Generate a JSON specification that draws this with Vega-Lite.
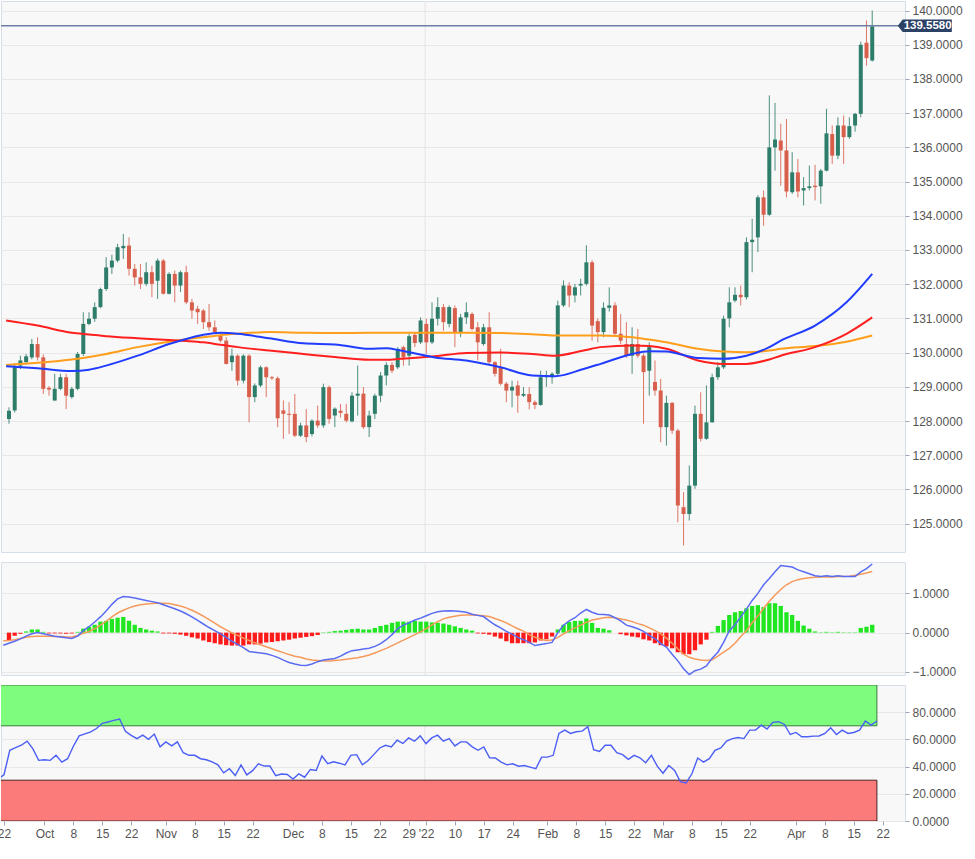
{
"$schema":"https://vega.github.io/schema/vega-lite/v6.json",
"background":"white",
"padding":{"left":-4,"top":0,"right":0,"bottom":0},
"spacing":10,
"bounds":"flush",
"config":{
"view":{"fill":"#f8f8f8","stroke":"#d6deeb","strokeWidth":1},
"axis":{"labelFont":"Liberation Sans","labelFontSize":12,"labelColor":"#555555","domain":false,"tickColor":"#9aa5b8","tickSize":4,"labelPadding":3,"gridColor":"#e8e8e8","labelOverlap":false,"labelFlush":false,"labelSeparation":0}
},
"datasets":{
"candles":[
{"i":-1,"m":-0.32,"s":-0.21,"r":31},
{"i":0,"o":128.06,"h":128.4,"l":127.92,"c":128.3,"m":-0.27,"s":-0.2,"hist":-0.2,"r":34},
{"i":1,"o":128.31,"h":129.68,"l":128.25,"c":129.57,"m":-0.22,"s":-0.18,"hist":-0.08,"r":52},
{"i":2,"o":129.62,"h":129.91,"l":129.52,"c":129.77,"m":-0.16,"s":-0.15,"hist":-0.03,"r":54},
{"i":3,"o":129.72,"h":129.96,"l":129.65,"c":129.89,"m":-0.09,"s":-0.12,"hist":0.03,"r":55.7},
{"i":4,"o":129.86,"h":130.4,"l":129.8,"c":130.25,"m":-0.03,"s":-0.1,"hist":0.08,"r":58.7},
{"i":5,"o":130.25,"h":130.45,"l":129.77,"c":129.86,"m":0,"s":-0.09,"hist":0.08,"r":53},
{"i":6,"o":129.86,"h":129.95,"l":128.79,"c":128.94,"m":-0.03,"s":-0.09,"hist":0.02,"r":44.6},
{"i":7,"o":128.97,"h":129.02,"l":128.74,"c":128.92,"m":-0.06,"s":-0.09,"hist":-0.02,"r":45},
{"i":8,"o":128.6,"h":129.38,"l":128.58,"c":128.94,"m":-0.09,"s":-0.1,"hist":-0.02,"r":44.6},
{"i":9,"o":128.94,"h":129.38,"l":128.9,"c":129.28,"m":-0.11,"s":-0.1,"hist":-0.02,"r":48.3},
{"i":10,"o":129.28,"h":129.38,"l":128.35,"c":128.74,"m":-0.13,"s":-0.11,"hist":-0.03,"r":43.3},
{"i":11,"o":128.7,"h":129,"l":128.65,"c":128.94,"m":-0.15,"s":-0.11,"hist":-0.02,"r":45.8},
{"i":12,"o":128.94,"h":130.02,"l":128.9,"c":129.96,"m":-0.09,"s":-0.07,"hist":0.02,"r":55},
{"i":13,"o":129.96,"h":131.18,"l":129.9,"c":130.84,"m":0.05,"s":-0.02,"hist":0.1,"r":62.6},
{"i":14,"o":130.84,"h":131.18,"l":130.8,"c":130.99,"m":0.15,"s":0.03,"hist":0.15,"r":64},
{"i":15,"o":130.99,"h":131.47,"l":130.9,"c":131.33,"m":0.27,"s":0.1,"hist":0.2,"r":65.5},
{"i":16,"o":131.33,"h":131.9,"l":131.3,"c":131.86,"m":0.4,"s":0.19,"hist":0.28,"r":68},
{"i":17,"o":131.86,"h":132.79,"l":131.8,"c":132.49,"m":0.55,"s":0.29,"hist":0.3,"r":71.8},
{"i":18,"o":132.49,"h":132.86,"l":132.3,"c":132.69,"m":0.72,"s":0.4,"hist":0.35,"r":72.8},
{"i":19,"o":132.69,"h":133.18,"l":132.64,"c":133.08,"m":0.86,"s":0.5,"hist":0.38,"r":74},
{"i":20,"o":133.05,"h":133.47,"l":132.74,"c":133.12,"m":0.92,"s":0.57,"hist":0.4,"r":75},
{"i":21,"o":133.13,"h":133.37,"l":132.25,"c":132.45,"m":0.91,"s":0.63,"hist":0.3,"r":66},
{"i":22,"o":132.45,"h":132.59,"l":131.96,"c":132.2,"m":0.88,"s":0.68,"hist":0.2,"r":63},
{"i":23,"o":132.2,"h":132.59,"l":131.86,"c":132.01,"m":0.85,"s":0.71,"hist":0.12,"r":60.6},
{"i":24,"o":132.01,"h":132.64,"l":131.95,"c":132.35,"m":0.82,"s":0.73,"hist":0.08,"r":63.1},
{"i":25,"o":132.35,"h":132.54,"l":131.62,"c":132.01,"m":0.79,"s":0.74,"hist":0.05,"r":60.1},
{"i":26,"o":132.1,"h":132.75,"l":131.57,"c":132.69,"m":0.76,"s":0.75,"hist":0.03,"r":63.9},
{"i":27,"o":132.69,"h":132.74,"l":131.7,"c":131.72,"m":0.71,"s":0.75,"hist":-0.02,"r":54.5},
{"i":28,"o":131.72,"h":132.35,"l":131.7,"c":132.3,"m":0.66,"s":0.74,"hist":-0.02,"r":58.2},
{"i":29,"o":132.3,"h":132.4,"l":131.47,"c":131.96,"m":0.61,"s":0.71,"hist":-0.03,"r":55.2},
{"i":30,"o":131.96,"h":132.4,"l":131.77,"c":132.35,"m":0.55,"s":0.68,"hist":-0.05,"r":58.2},
{"i":31,"o":132.35,"h":132.54,"l":131.42,"c":131.47,"m":0.48,"s":0.63,"hist":-0.08,"r":50.2},
{"i":32,"o":131.47,"h":131.57,"l":130.99,"c":131.23,"m":0.4,"s":0.57,"hist":-0.12,"r":48.3},
{"i":33,"o":131.28,"h":131.37,"l":130.84,"c":131.18,"m":0.31,"s":0.5,"hist":-0.15,"r":48.3},
{"i":34,"o":131.23,"h":131.28,"l":130.69,"c":130.89,"m":0.22,"s":0.42,"hist":-0.2,"r":45.8},
{"i":35,"o":130.89,"h":131.42,"l":130.64,"c":130.74,"m":0.13,"s":0.33,"hist":-0.24,"r":45},
{"i":36,"o":130.74,"h":130.94,"l":130.55,"c":130.6,"m":0.05,"s":0.24,"hist":-0.27,"r":43.5},
{"i":37,"o":130.5,"h":130.6,"l":130.3,"c":130.35,"m":-0.03,"s":0.15,"hist":-0.3,"r":41.3},
{"i":38,"o":130.35,"h":130.45,"l":129.65,"c":129.67,"m":-0.12,"s":0.07,"hist":-0.32,"r":35.4},
{"i":39,"o":129.72,"h":130.11,"l":129.47,"c":129.91,"m":-0.22,"s":-0.01,"hist":-0.33,"r":38.4},
{"i":40,"o":129.91,"h":129.95,"l":129.04,"c":129.18,"m":-0.3,"s":-0.07,"hist":-0.33,"r":33.4},
{"i":41,"o":129.18,"h":129.95,"l":129.1,"c":129.91,"m":-0.38,"s":-0.14,"hist":-0.33,"r":41.3},
{"i":42,"o":129.91,"h":129.95,"l":127.96,"c":128.7,"m":-0.48,"s":-0.2,"hist":-0.3,"r":33.9},
{"i":43,"o":128.7,"h":129.1,"l":128.55,"c":129.04,"m":-0.5,"s":-0.26,"hist":-0.3,"r":37},
{"i":44,"o":129.04,"h":129.62,"l":128.99,"c":129.57,"m":-0.52,"s":-0.31,"hist":-0.28,"r":42.1},
{"i":45,"o":129.57,"h":129.6,"l":128.7,"c":129.28,"m":-0.54,"s":-0.36,"hist":-0.25,"r":40.4},
{"i":46,"o":129.28,"h":129.32,"l":129.2,"c":129.25,"m":-0.58,"s":-0.41,"hist":-0.24,"r":40.4},
{"i":47,"o":129.25,"h":129.3,"l":127.82,"c":128.08,"m":-0.63,"s":-0.46,"hist":-0.22,"r":33.4},
{"i":48,"o":128.31,"h":128.6,"l":127.48,"c":128.21,"m":-0.7,"s":-0.51,"hist":-0.2,"r":34.5},
{"i":49,"o":128.21,"h":128.55,"l":127.62,"c":128.18,"m":-0.76,"s":-0.56,"hist":-0.18,"r":34.2},
{"i":50,"o":128.21,"h":128.79,"l":127.53,"c":127.57,"m":-0.8,"s":-0.6,"hist":-0.15,"r":30.9},
{"i":51,"o":127.57,"h":127.95,"l":127.53,"c":127.87,"m":-0.83,"s":-0.63,"hist":-0.13,"r":34.7},
{"i":52,"o":127.87,"h":128.35,"l":127.38,"c":127.53,"m":-0.84,"s":-0.67,"hist":-0.11,"r":32.2},
{"i":53,"o":127.62,"h":128.05,"l":127.55,"c":128.01,"m":-0.8,"s":-0.7,"hist":-0.09,"r":37.9},
{"i":54,"o":128.01,"h":128.45,"l":127.8,"c":127.87,"m":-0.74,"s":-0.71,"hist":-0.06,"r":37.1},
{"i":55,"o":127.87,"h":129.09,"l":127.8,"c":128.99,"m":-0.7,"s":-0.72,"hist":0.01,"r":47.8},
{"i":56,"o":128.99,"h":129.04,"l":127.92,"c":128.06,"m":-0.68,"s":-0.72,"hist":0.02,"r":42.1},
{"i":57,"o":128.16,"h":128.4,"l":127.82,"c":128.36,"m":-0.66,"s":-0.71,"hist":0.04,"r":43.5},
{"i":58,"o":128.3,"h":128.5,"l":128.1,"c":128.24,"m":-0.6,"s":-0.7,"hist":0.05,"r":42.5},
{"i":59,"o":128.21,"h":128.5,"l":127.96,"c":128.01,"m":-0.52,"s":-0.68,"hist":0.07,"r":41.3},
{"i":60,"o":127.99,"h":128.84,"l":127.96,"c":128.74,"m":-0.46,"s":-0.66,"hist":0.09,"r":48.3},
{"i":61,"o":128.74,"h":129.62,"l":128.16,"c":128.8,"m":-0.44,"s":-0.64,"hist":0.1,"r":48.8},
{"i":62,"o":128.8,"h":128.99,"l":127.77,"c":127.82,"m":-0.42,"s":-0.61,"hist":0.08,"r":41.3},
{"i":63,"o":127.82,"h":128.3,"l":127.53,"c":128.16,"m":-0.4,"s":-0.57,"hist":0.08,"r":44.5},
{"i":64,"o":128.21,"h":128.8,"l":128.06,"c":128.74,"m":-0.35,"s":-0.52,"hist":0.12,"r":49},
{"i":65,"o":128.74,"h":129.43,"l":128.55,"c":129.33,"m":-0.28,"s":-0.46,"hist":0.17,"r":53.7},
{"i":66,"o":129.33,"h":129.72,"l":129.04,"c":129.64,"m":-0.18,"s":-0.4,"hist":0.2,"r":55.7},
{"i":67,"o":129.64,"h":129.72,"l":129.4,"c":129.47,"m":-0.05,"s":-0.33,"hist":0.25,"r":54.5},
{"i":68,"o":129.57,"h":130.16,"l":129.52,"c":130.11,"m":0.1,"s":-0.26,"hist":0.28,"r":59.4},
{"i":69,"o":130.16,"h":130.2,"l":129.62,"c":129.86,"m":0.19,"s":-0.19,"hist":0.28,"r":57},
{"i":70,"o":129.91,"h":130.55,"l":129.62,"c":130.48,"m":0.25,"s":-0.12,"hist":0.28,"r":61.1},
{"i":71,"o":130.52,"h":130.6,"l":130.16,"c":130.28,"m":0.32,"s":-0.05,"hist":0.3,"r":58.7},
{"i":72,"o":130.3,"h":131.03,"l":130.25,"c":130.94,"m":0.37,"s":0.02,"hist":0.28,"r":62.6},
{"i":73,"o":130.84,"h":130.99,"l":129.97,"c":130.3,"m":0.43,"s":0.1,"hist":0.28,"r":56.9},
{"i":74,"o":130.3,"h":131.47,"l":130.25,"c":130.99,"m":0.49,"s":0.2,"hist":0.26,"r":61.1},
{"i":75,"o":130.99,"h":131.62,"l":130.79,"c":131.33,"m":0.53,"s":0.28,"hist":0.25,"r":63.1},
{"i":76,"o":131.33,"h":131.42,"l":130.64,"c":130.89,"m":0.55,"s":0.35,"hist":0.23,"r":58.7},
{"i":77,"o":130.84,"h":131.38,"l":130.74,"c":131.33,"m":0.56,"s":0.39,"hist":0.2,"r":60.6},
{"i":78,"o":131.3,"h":131.38,"l":130.16,"c":130.6,"m":0.55,"s":0.42,"hist":0.16,"r":55.2},
{"i":79,"o":130.6,"h":131.13,"l":130.45,"c":131.03,"m":0.54,"s":0.44,"hist":0.12,"r":58.2},
{"i":80,"o":131.03,"h":131.47,"l":130.84,"c":131.18,"m":0.52,"s":0.45,"hist":0.08,"r":58.2},
{"i":81,"o":131.13,"h":131.18,"l":130.64,"c":130.69,"m":0.47,"s":0.45,"hist":0.05,"r":54.5},
{"i":82,"o":130.74,"h":130.89,"l":129.77,"c":130.3,"m":0.44,"s":0.44,"hist":-0.02,"r":52},
{"i":83,"o":130.25,"h":130.84,"l":130.2,"c":130.74,"m":0.41,"s":0.43,"hist":-0.03,"r":54.5},
{"i":84,"o":130.74,"h":131.18,"l":129.62,"c":129.72,"m":0.3,"s":0.41,"hist":-0.05,"r":46.4},
{"i":85,"o":129.72,"h":129.75,"l":129.3,"c":129.38,"m":0.2,"s":0.36,"hist":-0.1,"r":46.3},
{"i":86,"o":129.57,"h":130.11,"l":129.04,"c":129.09,"m":0.12,"s":0.31,"hist":-0.15,"r":43.3},
{"i":87,"o":129.09,"h":129.14,"l":128.55,"c":128.89,"m":0.03,"s":0.25,"hist":-0.22,"r":41.3},
{"i":88,"o":128.89,"h":129.18,"l":128.4,"c":129,"m":-0.04,"s":0.17,"hist":-0.27,"r":42.1},
{"i":89,"o":129.04,"h":129.18,"l":128.24,"c":128.74,"m":-0.12,"s":0.1,"hist":-0.27,"r":40.3},
{"i":90,"o":128.74,"h":128.99,"l":128.7,"c":128.79,"m":-0.18,"s":0.04,"hist":-0.27,"r":40.8},
{"i":91,"o":128.79,"h":128.99,"l":128.34,"c":128.55,"m":-0.25,"s":-0.05,"hist":-0.27,"r":39.6},
{"i":92,"o":128.55,"h":128.6,"l":128.35,"c":128.47,"m":-0.33,"s":-0.12,"hist":-0.25,"r":38.4},
{"i":93,"o":128.47,"h":129.47,"l":128.45,"c":129.28,"m":-0.3,"s":-0.17,"hist":-0.2,"r":47},
{"i":94,"o":129.28,"h":129.47,"l":129,"c":129.33,"m":-0.28,"s":-0.2,"hist":-0.17,"r":47},
{"i":95,"o":129.28,"h":129.43,"l":129.09,"c":129.38,"m":-0.25,"s":-0.19,"hist":-0.1,"r":48.3},
{"i":96,"o":129.38,"h":131.52,"l":129.33,"c":131.38,"m":0,"s":-0.12,"hist":0.08,"r":64.4},
{"i":97,"o":131.38,"h":132.11,"l":131.33,"c":131.96,"m":0.19,"s":-0.03,"hist":0.2,"r":66.8},
{"i":98,"o":131.96,"h":132.06,"l":131.33,"c":131.67,"m":0.3,"s":0.05,"hist":0.27,"r":64.4},
{"i":99,"o":131.67,"h":132.01,"l":131.47,"c":131.91,"m":0.38,"s":0.12,"hist":0.3,"r":65.6},
{"i":100,"o":131.96,"h":132.16,"l":131.67,"c":132.01,"m":0.5,"s":0.19,"hist":0.3,"r":66.1},
{"i":101,"o":132.01,"h":133.14,"l":131.96,"c":132.64,"m":0.59,"s":0.26,"hist":0.36,"r":69.3},
{"i":102,"o":132.64,"h":132.7,"l":130.35,"c":130.79,"m":0.52,"s":0.32,"hist":0.25,"r":52.5},
{"i":103,"o":130.92,"h":131,"l":130.3,"c":130.6,"m":0.47,"s":0.35,"hist":0.12,"r":51.2},
{"i":104,"o":130.6,"h":131.47,"l":130.45,"c":131.31,"m":0.46,"s":0.38,"hist":0.1,"r":55.7},
{"i":105,"o":131.31,"h":131.91,"l":131.2,"c":131.38,"m":0.45,"s":0.39,"hist":0.06,"r":55.7},
{"i":106,"o":131.38,"h":131.47,"l":130.5,"c":130.55,"m":0.38,"s":0.38,"hist":0,"r":50.2},
{"i":107,"o":130.55,"h":131.13,"l":130.25,"c":130.35,"m":0.3,"s":0.35,"hist":-0.04,"r":48.8},
{"i":108,"o":130.25,"h":130.89,"l":129.85,"c":129.91,"m":0.19,"s":0.32,"hist":-0.07,"r":45.3},
{"i":109,"o":129.91,"h":130.74,"l":129.38,"c":130.25,"m":0.15,"s":0.28,"hist":-0.1,"r":48.3},
{"i":110,"o":130.25,"h":130.69,"l":129.85,"c":129.91,"m":0.1,"s":0.23,"hist":-0.12,"r":46.5},
{"i":111,"o":129.91,"h":129.97,"l":127.92,"c":129.43,"m":0.03,"s":0.19,"hist":-0.17,"r":42.8},
{"i":112,"o":129.47,"h":130.3,"l":128.74,"c":130.16,"m":-0.07,"s":0.12,"hist":-0.2,"r":48.3},
{"i":113,"o":129.14,"h":129.77,"l":128.74,"c":128.89,"m":-0.15,"s":0.05,"hist":-0.27,"r":40.3},
{"i":114,"o":128.89,"h":129.23,"l":127.38,"c":127.82,"m":-0.28,"s":-0.03,"hist":-0.32,"r":35.1},
{"i":115,"o":127.82,"h":128.74,"l":127.28,"c":128.53,"m":-0.37,"s":-0.14,"hist":-0.35,"r":40.8},
{"i":116,"o":128.53,"h":128.55,"l":127.62,"c":127.72,"m":-0.55,"s":-0.27,"hist":-0.4,"r":37.1},
{"i":117,"o":127.72,"h":127.77,"l":125.04,"c":125.53,"m":-0.72,"s":-0.41,"hist":-0.5,"r":29},
{"i":118,"o":125.48,"h":125.92,"l":124.36,"c":125.28,"m":-0.92,"s":-0.55,"hist":-0.55,"r":28},
{"i":119,"o":125.28,"h":126.7,"l":125.09,"c":126.11,"m":-1.07,"s":-0.63,"hist":-0.55,"r":34.7},
{"i":120,"o":126.11,"h":128.45,"l":126.02,"c":128.21,"m":-0.97,"s":-0.67,"hist":-0.45,"r":46.3},
{"i":121,"o":128.21,"h":128.84,"l":127.4,"c":127.48,"m":-0.93,"s":-0.7,"hist":-0.3,"r":43.3},
{"i":122,"o":127.48,"h":129.04,"l":127.45,"c":127.96,"m":-0.85,"s":-0.71,"hist":-0.18,"r":45.8},
{"i":123,"o":127.96,"h":129.38,"l":127.96,"c":129.28,"m":-0.65,"s":-0.69,"hist":0.02,"r":52},
{"i":124,"o":129.28,"h":129.72,"l":129.2,"c":129.57,"m":-0.5,"s":-0.6,"hist":0.17,"r":53.7},
{"i":125,"o":129.57,"h":131.08,"l":129.52,"c":130.99,"m":-0.25,"s":-0.5,"hist":0.32,"r":58.7},
{"i":126,"o":131,"h":131.91,"l":130.74,"c":131.47,"m":0.05,"s":-0.4,"hist":0.45,"r":60.6},
{"i":127,"o":131.52,"h":131.91,"l":131.47,"c":131.69,"m":0.2,"s":-0.27,"hist":0.52,"r":61.4},
{"i":128,"o":131.69,"h":131.96,"l":131.38,"c":131.62,"m":0.4,"s":-0.1,"hist":0.55,"r":60.6},
{"i":129,"o":131.62,"h":133.37,"l":131.55,"c":133.23,"m":0.6,"s":0.05,"hist":0.62,"r":66.8},
{"i":130,"o":133.23,"h":133.91,"l":132.35,"c":133.3,"m":0.82,"s":0.25,"hist":0.68,"r":66.8},
{"i":131,"o":133.37,"h":134.6,"l":132.94,"c":134.54,"m":1,"s":0.42,"hist":0.7,"r":70.5},
{"i":132,"o":134.54,"h":134.74,"l":133.71,"c":134.03,"m":1.22,"s":0.62,"hist":0.65,"r":67.6},
{"i":133,"o":134.03,"h":137.52,"l":134,"c":136,"m":1.38,"s":0.8,"hist":0.75,"r":72.5},
{"i":134,"o":136,"h":137.3,"l":135.32,"c":136.23,"m":1.55,"s":0.96,"hist":0.75,"r":73},
{"i":135,"o":136.2,"h":136.69,"l":134.88,"c":135.91,"m":1.71,"s":1.1,"hist":0.68,"r":71},
{"i":136,"o":135.91,"h":136.83,"l":134.54,"c":134.71,"m":1.69,"s":1.22,"hist":0.52,"r":63.6},
{"i":137,"o":134.69,"h":135.86,"l":134.64,"c":135.27,"m":1.67,"s":1.3,"hist":0.45,"r":65.1},
{"i":138,"o":135.27,"h":135.66,"l":134.54,"c":134.71,"m":1.6,"s":1.35,"hist":0.3,"r":61.9},
{"i":139,"o":134.74,"h":135.13,"l":134.3,"c":134.81,"m":1.55,"s":1.38,"hist":0.18,"r":62},
{"i":140,"o":134.81,"h":135.47,"l":134.74,"c":134.86,"m":1.5,"s":1.4,"hist":0.1,"r":62.4},
{"i":141,"o":134.88,"h":135.49,"l":134.45,"c":134.84,"m":1.45,"s":1.41,"hist":0.03,"r":62.5},
{"i":142,"o":134.86,"h":135.37,"l":134.35,"c":135.32,"m":1.43,"s":1.42,"hist":0.01,"r":64.4},
{"i":143,"o":135.32,"h":137.13,"l":135.3,"c":136.41,"m":1.45,"s":1.42,"hist":0.02,"r":68.6},
{"i":144,"o":136.39,"h":136.64,"l":135.52,"c":135.76,"m":1.43,"s":1.42,"hist":0.01,"r":63.6},
{"i":145,"o":135.76,"h":136.88,"l":135.66,"c":136.64,"m":1.45,"s":1.43,"hist":0.02,"r":66.8},
{"i":146,"o":136.64,"h":136.93,"l":135.52,"c":136.3,"m":1.43,"s":1.43,"hist":0.01,"r":64.4},
{"i":147,"o":136.3,"h":136.88,"l":136.25,"c":136.62,"m":1.43,"s":1.44,"hist":0.01,"r":65.1},
{"i":148,"o":136.64,"h":137.01,"l":136.46,"c":136.98,"m":1.43,"s":1.46,"hist":0.01,"r":66.8},
{"i":149,"o":136.98,"h":139.09,"l":136.88,"c":139,"m":1.55,"s":1.49,"hist":0.12,"r":73.5},
{"i":150,"o":139.06,"h":139.71,"l":138.39,"c":138.61,"m":1.63,"s":1.52,"hist":0.15,"r":70.5},
{"i":151,"o":138.54,"h":140,"l":138.51,"c":139.54,"m":1.75,"s":1.56,"hist":0.2,"r":73.5}
],
"ma":[
{"i":-0.5,"blue":129.6,"red":130.94,"orange":129.64},
{"i":5,"blue":129.54,"red":130.79,"orange":129.7},
{"i":11,"blue":129.46,"red":130.58,"orange":129.8},
{"i":14,"blue":129.5,"red":130.53,"orange":129.87},
{"i":17,"blue":129.62,"red":130.48,"orange":129.96},
{"i":22.5,"blue":129.91,"red":130.42,"orange":130.16},
{"i":28,"blue":130.25,"red":130.37,"orange":130.32},
{"i":31,"blue":130.4,"red":130.34,"orange":130.39},
{"i":34,"blue":130.52,"red":130.3,"orange":130.45},
{"i":37,"blue":130.58,"red":130.23,"orange":130.51},
{"i":40,"blue":130.55,"red":130.16,"orange":130.55},
{"i":45.5,"blue":130.42,"red":130.06,"orange":130.6},
{"i":51.5,"blue":130.27,"red":129.96,"orange":130.58},
{"i":57,"blue":130.24,"red":129.87,"orange":130.57},
{"i":63,"blue":130.11,"red":129.79,"orange":130.58},
{"i":66,"blue":130.13,"red":129.79,"orange":130.58},
{"i":68.5,"blue":130.06,"red":129.82,"orange":130.58},
{"i":74.5,"blue":129.86,"red":129.89,"orange":130.58},
{"i":80,"blue":129.77,"red":129.99,"orange":130.58},
{"i":86,"blue":129.57,"red":130,"orange":130.57},
{"i":91.5,"blue":129.33,"red":129.96,"orange":130.54},
{"i":95.5,"blue":129.31,"red":129.91,"orange":130.5},
{"i":100.5,"blue":129.52,"red":130.06,"orange":130.5},
{"i":103.5,"blue":129.67,"red":130.16,"orange":130.5},
{"i":109,"blue":129.96,"red":130.21,"orange":130.45},
{"i":112,"blue":130.04,"red":130.19,"orange":130.38},
{"i":115,"blue":130.03,"red":130.11,"orange":130.3},
{"i":120.5,"blue":129.84,"red":129.77,"orange":130.11},
{"i":125,"blue":129.82,"red":129.67,"orange":130.03},
{"i":129,"blue":129.91,"red":129.67,"orange":130.01},
{"i":133,"blue":130.16,"red":129.8,"orange":130.06},
{"i":135,"blue":130.35,"red":129.91,"orange":130.11},
{"i":141,"blue":130.79,"red":130.16,"orange":130.19},
{"i":146.5,"blue":131.47,"red":130.55,"orange":130.32},
{"i":151,"blue":132.3,"red":131.03,"orange":130.5}
],
"last":[{"price":139.558}],
"zones":[{"lo":70,"hi":100,"zone":"overbought"},{"lo":0,"hi":30,"zone":"oversold"}]
},
"vconcat":[
{
"width":904,"height":551,
"layer":[
{"data":{"values":[{}]},"mark":{"type":"rule","color":"#e4e4e4","strokeWidth":1},"encoding":{"x":{"datum":72.8,"type":"quantitative","scale":{"domain":[-0.52,155.86],"nice":false,"zero":false},"axis":null}}},
{"data":{"name":"candles"},"mark":{"type":"rule","strokeWidth":1,"opacity":0.85,"clip":true},
"encoding":{
"x":{"field":"i","type":"quantitative","scale":{"domain":[-0.52,155.86],"nice":false,"zero":false},"axis":null},
"y":{"field":"l","type":"quantitative","scale":{"domain":[124.17,140.28],"nice":false,"zero":false},"axis":{"orient":"right","values":[125,126,127,128,129,130,131,132,133,134,135,136,137,138,139,140],"format":".4f","grid":true,"title":null,"labelOverlap":false}},
"y2":{"field":"h"},
"color":{"condition":{"test":"datum.c >= datum.o","value":"#2e7d6a"},"value":"#d85f4b"}}},
{"data":{"name":"candles"},"mark":{"type":"bar","size":4,"clip":true},
"encoding":{
"x":{"field":"i","type":"quantitative","scale":{"domain":[-0.52,155.86],"nice":false,"zero":false},"axis":null},
"y":{"field":"o","type":"quantitative","scale":{"domain":[124.17,140.28],"nice":false,"zero":false},"axis":{"orient":"right","values":[125,126,127,128,129,130,131,132,133,134,135,136,137,138,139,140],"format":".4f","grid":true,"title":null,"labelOverlap":false}},
"y2":{"field":"c"},
"color":{"condition":{"test":"datum.c >= datum.o","value":"#2e7d6a"},"value":"#d85f4b"}}},
{"data":{"name":"ma"},"mark":{"type":"line","color":"#ff9e1a","strokeWidth":2,"interpolate":"monotone","clip":true},
"encoding":{"x":{"field":"i","type":"quantitative","scale":{"domain":[-0.52,155.86],"nice":false,"zero":false},"axis":null},"y":{"field":"orange","type":"quantitative","scale":{"domain":[124.17,140.28],"nice":false,"zero":false},"axis":{"orient":"right","values":[125,126,127,128,129,130,131,132,133,134,135,136,137,138,139,140],"format":".4f","grid":true,"title":null,"labelOverlap":false}}}},
{"data":{"name":"ma"},"mark":{"type":"line","color":"#ff1f1f","strokeWidth":2,"interpolate":"monotone","clip":true},
"encoding":{"x":{"field":"i","type":"quantitative","scale":{"domain":[-0.52,155.86],"nice":false,"zero":false},"axis":null},"y":{"field":"red","type":"quantitative","scale":{"domain":[124.17,140.28],"nice":false,"zero":false},"axis":{"orient":"right","values":[125,126,127,128,129,130,131,132,133,134,135,136,137,138,139,140],"format":".4f","grid":true,"title":null,"labelOverlap":false}}}},
{"data":{"name":"ma"},"mark":{"type":"line","color":"#1f3cff","strokeWidth":2,"interpolate":"monotone","clip":true},
"encoding":{"x":{"field":"i","type":"quantitative","scale":{"domain":[-0.52,155.86],"nice":false,"zero":false},"axis":null},"y":{"field":"blue","type":"quantitative","scale":{"domain":[124.17,140.28],"nice":false,"zero":false},"axis":{"orient":"right","values":[125,126,127,128,129,130,131,132,133,134,135,136,137,138,139,140],"format":".4f","grid":true,"title":null,"labelOverlap":false}}}},
{"data":{"name":"last"},"mark":{"type":"rule","color":"#6b80a3","strokeWidth":1.5},
"encoding":{"y":{"field":"price","type":"quantitative","scale":{"domain":[124.17,140.28],"nice":false,"zero":false},"axis":{"orient":"right","values":[125,126,127,128,129,130,131,132,133,134,135,136,137,138,139,140],"format":".4f","grid":true,"title":null,"labelOverlap":false}}}},
{"data":{"name":"last"},"mark":{"type":"point","shape":"M-1,0L-0.82,-0.23L1,-0.23L1,0.23L-0.82,0.23Z","size":2916,"filled":true,"color":"#2b4166","opacity":1,"clip":false},
"encoding":{"x":{"datum":160.2,"type":"quantitative","scale":{"domain":[-0.52,155.86],"nice":false,"zero":false},"axis":null},"y":{"field":"price","type":"quantitative","scale":{"domain":[124.17,140.28],"nice":false,"zero":false},"axis":{"orient":"right","values":[125,126,127,128,129,130,131,132,133,134,135,136,137,138,139,140],"format":".4f","grid":true,"title":null,"labelOverlap":false}}}},
{"data":{"name":"last"},"mark":{"type":"text","color":"white","font":"Liberation Sans","fontSize":11.5,"fontWeight":"bold","clip":false,"baseline":"middle","align":"center"},
"encoding":{"x":{"datum":160.7,"type":"quantitative","scale":{"domain":[-0.52,155.86],"nice":false,"zero":false},"axis":null},"y":{"field":"price","type":"quantitative","scale":{"domain":[124.17,140.28],"nice":false,"zero":false},"axis":{"orient":"right","values":[125,126,127,128,129,130,131,132,133,134,135,136,137,138,139,140],"format":".4f","grid":true,"title":null,"labelOverlap":false}},"text":{"field":"price","type":"quantitative","format":".4f"}}}
]
},
{
"width":904,"height":113,
"layer":[
{"data":{"values":[{}]},"mark":{"type":"rule","color":"#e4e4e4","strokeWidth":1},"encoding":{"x":{"datum":72.8,"type":"quantitative","scale":{"domain":[-0.52,155.86],"nice":false,"zero":false},"axis":null}}},
{"data":{"name":"candles"},"mark":{"type":"bar","size":4.3,"clip":true},
"encoding":{
"x":{"field":"i","type":"quantitative","scale":{"domain":[-0.52,155.86],"nice":false,"zero":false},"axis":null},
"y":{"field":"hist","type":"quantitative","scale":{"domain":[-1.08,1.8],"nice":false,"zero":false},"axis":{"orient":"right","values":[-1,0,1],"format":".4f","grid":true,"title":null,"labelOverlap":false}},
"y2":{"datum":0},
"color":{"condition":{"test":"datum.hist >= 0","value":"#1fe61f"},"value":"#ff1a1a"}}},
{"data":{"name":"candles"},"mark":{"type":"line","color":"#f59a5b","strokeWidth":1.5,"clip":true},
"encoding":{"x":{"field":"i","type":"quantitative","scale":{"domain":[-0.52,155.86],"nice":false,"zero":false},"axis":null},"y":{"field":"s","type":"quantitative","scale":{"domain":[-1.08,1.8],"nice":false,"zero":false},"axis":{"orient":"right","values":[-1,0,1],"format":".4f","grid":true,"title":null,"labelOverlap":false}}}},
{"data":{"name":"candles"},"mark":{"type":"line","color":"#5a6cf2","strokeWidth":1.5,"clip":true},
"encoding":{"x":{"field":"i","type":"quantitative","scale":{"domain":[-0.52,155.86],"nice":false,"zero":false},"axis":null},"y":{"field":"m","type":"quantitative","scale":{"domain":[-1.08,1.8],"nice":false,"zero":false},"axis":{"orient":"right","values":[-1,0,1],"format":".4f","grid":true,"title":null,"labelOverlap":false}}}}
]
},
{
"width":904,"height":136,
"layer":[
{"data":{"values":[{}]},"mark":{"type":"rule","color":"#e4e4e4","strokeWidth":1},"encoding":{"x":{"datum":72.8,"type":"quantitative","scale":{"domain":[-0.52,155.86],"nice":false,"zero":false},
"axis":{"orient":"bottom","values":[0,7,12,17,22,28,33,38,43,50,55,60,65,70,73,78,83,88,94,99,104,109,114,119,124,129,137,142,147,152],
"labelExpr":"['22','Oct','8','15','22','Nov','8','15','22','Dec','8','15','22','29',\"'22\",'10','17','24','Feb','8','15','22','Mar','8','15','22','Apr','8','15','22'][indexof([0,7,12,17,22,28,33,38,43,50,55,60,65,70,73,78,83,88,94,99,104,109,114,119,124,129,137,142,147,152], datum.value)]",
"grid":false,"labelFlush":false,"labelOverlap":false,"title":null}}}},
{"data":{"name":"zones"},"mark":{"type":"rect","strokeWidth":1,"clip":true},
"encoding":{
"x":{"datum":-2,"type":"quantitative","scale":{"domain":[-0.52,155.86],"nice":false,"zero":false},
"axis":{"orient":"bottom","values":[0,7,12,17,22,28,33,38,43,50,55,60,65,70,73,78,83,88,94,99,104,109,114,119,124,129,137,142,147,152],
"labelExpr":"['22','Oct','8','15','22','Nov','8','15','22','Dec','8','15','22','29',\"'22\",'10','17','24','Feb','8','15','22','Mar','8','15','22','Apr','8','15','22'][indexof([0,7,12,17,22,28,33,38,43,50,55,60,65,70,73,78,83,88,94,99,104,109,114,119,124,129,137,142,147,152], datum.value)]",
"grid":false,"labelFlush":false,"labelOverlap":false,"title":null}},
"x2":{"datum":151},
"y":{"field":"lo","type":"quantitative","scale":{"domain":[0,100],"nice":false,"zero":false},"axis":{"orient":"right","values":[0,20,40,60,80],"format":".4f","grid":true,"title":null,"labelOverlap":false}},
"y2":{"field":"hi"},
"fill":{"condition":{"test":"datum.lo >= 50","value":"#7dfc7d"},"value":"#fb7b7b"},
"stroke":{"condition":{"test":"datum.lo >= 50","value":"#3c7a3c"},"value":"#4a2020"}}},
{"data":{"name":"candles"},"mark":{"type":"line","color":"#4b5ef5","strokeWidth":1.4,"clip":true},
"encoding":{
"x":{"field":"i","type":"quantitative","scale":{"domain":[-0.52,155.86],"nice":false,"zero":false},
"axis":{"orient":"bottom","values":[0,7,12,17,22,28,33,38,43,50,55,60,65,70,73,78,83,88,94,99,104,109,114,119,124,129,137,142,147,152],
"labelExpr":"['22','Oct','8','15','22','Nov','8','15','22','Dec','8','15','22','29',\"'22\",'10','17','24','Feb','8','15','22','Mar','8','15','22','Apr','8','15','22'][indexof([0,7,12,17,22,28,33,38,43,50,55,60,65,70,73,78,83,88,94,99,104,109,114,119,124,129,137,142,147,152], datum.value)]",
"grid":false,"labelFlush":false,"labelOverlap":false,"title":null}},
"y":{"field":"r","type":"quantitative","scale":{"domain":[0,100],"nice":false,"zero":false},"axis":{"orient":"right","values":[0,20,40,60,80],"format":".4f","grid":true,"title":null,"labelOverlap":false}}}}
]
}
]
}
